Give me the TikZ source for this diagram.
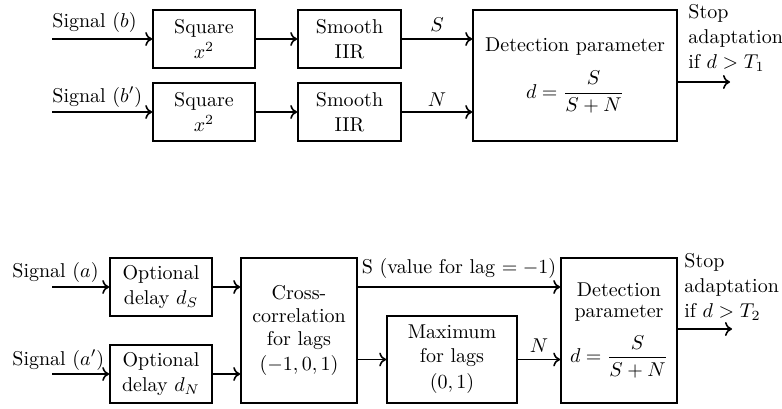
\documentclass[tikz,border=0pt]{standalone}
\usepackage{amsmath}
\usetikzlibrary{arrows.meta}
\begin{document}
\begin{tikzpicture}[x=0.5pt,y=-0.5pt,
  txt/.style={font=\fontsize{10}{12.5}\selectfont},
  box/.style={txt,draw,line width=0.8pt,inner sep=0pt,align=center},
  lab/.style={txt,inner sep=0pt},
  arr/.style={line width=0.8pt,-{To[length=3.5pt,width=7pt]}}
]
\useasboundingbox (0,0) rectangle (782,408);

% ---------- top diagram ----------
\node[box,minimum width=51pt,minimum height=29pt] (sq1) at (204,39) {Square\\$x^2$};
\node[box,minimum width=51.5pt,minimum height=29pt] (sm1) at (349.5,39) {Smooth\\IIR};
\node[box,minimum width=51pt,minimum height=29pt] (sq2) at (204,112) {Square\\$x^2$};
\node[box,minimum width=51.5pt,minimum height=29pt] (sm2) at (349.5,112) {Smooth\\IIR};
\node[box,minimum width=102pt,minimum height=65.5pt] (det1) at (575,75.5)
  {Detection parameter\\[7pt]$d=\dfrac{S}{S+N}$};

\coordinate (inb) at (52,39);
\coordinate (inbp) at (52,112);
\node[lab,anchor=base west] (lb) at (52,27) {Signal ($b$)};
\node[lab,anchor=base west] (lbp) at (52,102) {Signal ($b'$)};
\draw[arr] (inb) -- (sq1);
\draw[arr] (inbp) -- (sq2);
\draw[arr] (sq1) -- (sm1);
\draw[arr] (sq2) -- (sm2);
\draw[arr] (sm1.east) -- (sm1.east -| det1.west) node[lab,midway,above=3.5pt] {$S$};
\draw[arr] (sm2.east) -- (sm2.east -| det1.west) node[lab,midway,above=2.5pt] {$N$};

\coordinate (o1) at (730,82);
\draw[arr] (o1 -| det1.east) -- (o1);
\node[lab,anchor=north west,align=left] (st1) at (688,4) {Stop\\adaptation\\if $d>T_1$};

% ---------- bottom diagram ----------
\node[box,minimum width=51pt,minimum height=29pt] (od1) at (161,287) {Optional\\delay $d_S$};
\node[box,minimum width=51pt,minimum height=29pt] (od2) at (161,374) {Optional\\delay $d_N$};
\node[box,minimum width=58pt,minimum height=72.5pt,font=\fontsize{10}{11.5}\selectfont] (cc) at (299,330.5)
  {Cross-\\correlation\\for lags\\[1pt]$(-1,0,1)$};
\node[box,minimum width=65pt,minimum height=43.5pt,font=\fontsize{10}{12}\selectfont] (mx) at (452,359.5)
  {Maximum\\for lags\\[1pt]$(0,1)$};
\node[box,minimum width=58pt,minimum height=72.5pt,font=\fontsize{10}{10.5}\selectfont] (det2) at (619,330.5)
  {Detection\\parameter\\[6pt]$d=\dfrac{S}{S+N}$};

\coordinate (ina) at (52,287);
\coordinate (inap) at (52,374);
\node[lab,anchor=base west] (la) at (12,277) {Signal ($a$)};
\node[lab,anchor=base west] (lap) at (12,365) {Signal ($a'$)};
\draw[arr] (ina) -- (od1);
\draw[arr] (inap) -- (od2);
\draw[arr] (od1.east) -- (od1.east -| cc.west);
\draw[arr] (od2.east) -- (od2.east -| cc.west);
\draw[arr] (od1.east -| cc.east) -- (od1.east -| det2.west)
  node[lab,midway,above=4pt] {S (value for lag $=-1$)};
\draw[arr] (mx.west -| cc.east) -- (mx.west);
\draw[arr] (mx.east) -- (mx.east -| det2.west) node[lab,midway,above=3pt] {$N$};

\coordinate (o2) at (732,329);
\draw[arr] (o2 -| det2.east) -- (o2);
\node[lab,anchor=north west,align=left] (st2) at (684,253) {Stop\\adaptation\\if $d>T_2$};
\end{tikzpicture}
\end{document}
